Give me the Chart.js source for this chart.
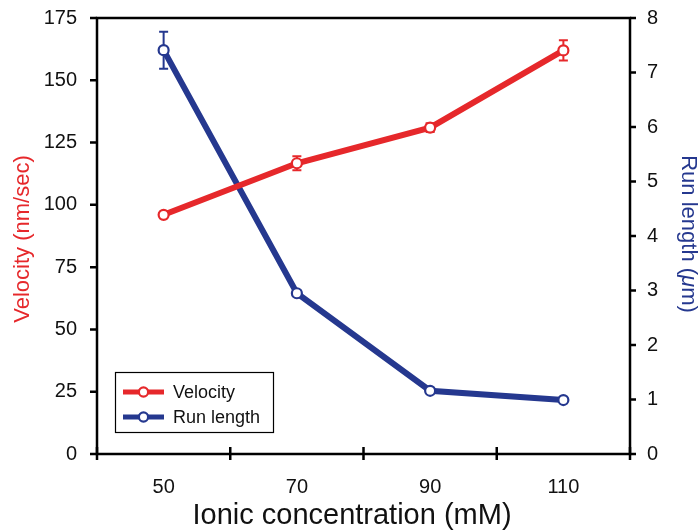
<!DOCTYPE html>
<html>
<head>
<meta charset="utf-8">
<script src="https://cdn.jsdelivr.net/npm/chart.js@4/dist/chart.umd.min.js"></script>
<style>
  html, body { margin: 0; padding: 0; background: #fff; }
  #wrap { width: 700px; height: 531px; position: relative; }
</style>
</head>
<body>
<div id="wrap"><canvas id="chart" width="700" height="531"></canvas></div>
<script>
// Ionic concentration (mM)
const concentration = [50, 70, 90, 110];
// Velocity (nm/sec) with standard error
const velocity = [96, 116.7, 131, 162];
const velocityErr = [1, 2.8, 1.8, 4.1];
// Run length (µm) with standard error
const runLength = [7.41, 2.95, 1.16, 0.99];
const runLengthErr = [0.34, 0.05, 0.04, 0.03];

const xLabelTicks = [50, 70, 90, 110];
const xMarkTicks = [40, 60, 80, 100, 120];
const velocityTicks = [0, 25, 50, 75, 100, 125, 150, 175];
const runTicks = [0, 1, 2, 3, 4, 5, 6, 7, 8];

const RED = '#e6282b';
const BLUE = '#25388f';
const FONT = '"Liberation Sans", Arial, Helvetica, sans-serif';

const toPoints = (ys) => concentration.map((x, i) => ({ x, y: ys[i] }));

// Vertical error bars with caps, drawn under the lines and markers
const errorBars = {
  id: 'errorBars',
  beforeDatasetsDraw(chart) {
    const ctx = chart.ctx;
    const xs = chart.scales.x;
    chart.data.datasets.forEach((ds) => {
      const ys = chart.scales[ds.yAxisID];
      ctx.save();
      ctx.strokeStyle = ds.borderColor;
      ctx.lineWidth = 2;
      ds.data.forEach((p, i) => {
        const e = ds.errors[i];
        const px = xs.getPixelForValue(p.x);
        const top = ys.getPixelForValue(p.y + e);
        const bot = ys.getPixelForValue(p.y - e);
        ctx.beginPath();
        ctx.moveTo(px, top); ctx.lineTo(px, bot);
        ctx.moveTo(px - 4.5, top); ctx.lineTo(px + 4.5, top);
        ctx.moveTo(px - 4.5, bot); ctx.lineTo(px + 4.5, bot);
        ctx.stroke();
      });
      ctx.restore();
    });
  }
};

// Axis frame, tick marks, axis titles and the boxed legend
const frame = {
  id: 'frame',
  afterDraw(chart) {
    const ctx = chart.ctx;
    const { left, right, top, bottom } = chart.chartArea;
    const xs = chart.scales.x, yl = chart.scales.y, yr = chart.scales.y1;
    ctx.save();
    ctx.strokeStyle = '#000';
    ctx.lineWidth = 2.5;
    ctx.lineCap = 'square';
    ctx.beginPath();
    ctx.moveTo(left, top); ctx.lineTo(right, top);
    ctx.moveTo(left, top); ctx.lineTo(left, bottom);
    ctx.moveTo(left, bottom); ctx.lineTo(right, bottom);
    ctx.moveTo(right, top); ctx.lineTo(right, bottom);
    ctx.stroke();
    ctx.lineCap = 'butt';
    ctx.lineWidth = 2.5;
    ctx.beginPath();
    xMarkTicks.forEach(v => {
      const px = xs.getPixelForValue(v);
      ctx.moveTo(px, bottom - 7); ctx.lineTo(px, bottom + 6);
    });
    velocityTicks.forEach(v => {
      const py = yl.getPixelForValue(v);
      ctx.moveTo(left - 7, py); ctx.lineTo(left, py);
    });
    runTicks.forEach(v => {
      const py = yr.getPixelForValue(v);
      ctx.moveTo(right, py); ctx.lineTo(right + 6, py);
    });
    ctx.stroke();

    // axis titles
    ctx.textAlign = 'center';
    ctx.textBaseline = 'middle';
    ctx.fillStyle = '#111';
    ctx.font = '29px ' + FONT;
    ctx.fillText('Ionic concentration (mM)', 352, 516);

    ctx.save();
    ctx.translate(23, 239);
    ctx.rotate(-Math.PI / 2);
    ctx.fillStyle = RED;
    ctx.font = '22px ' + FONT;
    ctx.fillText('Velocity (nm/sec)', 0, 0);
    ctx.restore();

    ctx.save();
    ctx.translate(688, 234);
    ctx.rotate(Math.PI / 2);
    ctx.fillStyle = BLUE;
    ctx.font = '22px ' + FONT;
    const a = 'Run length (', b = 'μ', c = 'm)';
    ctx.textAlign = 'left';
    const wa = ctx.measureText(a).width;
    ctx.font = 'italic 22px ' + FONT;
    const wb = ctx.measureText(b).width;
    ctx.font = '22px ' + FONT;
    const wc = ctx.measureText(c).width;
    let sx = -(wa + wb + wc) / 2;
    ctx.fillText(a, sx, 0); sx += wa;
    ctx.font = 'italic 22px ' + FONT;
    ctx.fillText(b, sx, 0); sx += wb;
    ctx.font = '22px ' + FONT;
    ctx.fillText(c, sx, 0);
    ctx.restore();

    // legend
    ctx.lineWidth = 1.2;
    ctx.strokeStyle = '#000';
    ctx.strokeRect(115.5, 372.5, 158, 60);
    const rows = [
      { label: 'Velocity', color: RED, y: 392 },
      { label: 'Run length', color: BLUE, y: 417 }
    ];
    rows.forEach(r => {
      ctx.strokeStyle = r.color;
      ctx.lineWidth = 5;
      ctx.beginPath();
      ctx.moveTo(123, r.y); ctx.lineTo(164, r.y);
      ctx.stroke();
      ctx.beginPath();
      ctx.arc(143.5, r.y, 4.6, 0, Math.PI * 2);
      ctx.fillStyle = '#fff';
      ctx.fill();
      ctx.lineWidth = 2.2;
      ctx.stroke();
      ctx.fillStyle = '#111';
      ctx.font = '18px ' + FONT;
      ctx.textAlign = 'left';
      ctx.fillText(r.label, 173, r.y + 1);
    });
    ctx.restore();
  }
};

const tickFont = { family: FONT, size: 20 };

// Let the outer tick labels overhang the plot edges instead of shrinking it
const noLabelOverhang = (s) => {
  s.paddingTop = 0; s.paddingBottom = 0;
  s.paddingLeft = 0; s.paddingRight = 0;
};

new Chart(document.getElementById('chart'), {
  type: 'line',
  data: {
    datasets: [
      {
        label: 'Velocity',
        data: toPoints(velocity),
        errors: velocityErr,
        yAxisID: 'y',
        borderColor: RED,
        backgroundColor: '#fff',
        borderWidth: 6,
        pointRadius: 5,
        pointBorderWidth: 2.2,
        pointBackgroundColor: '#fff',
        pointBorderColor: RED,
        tension: 0
      },
      {
        label: 'Run length',
        data: toPoints(runLength),
        errors: runLengthErr,
        yAxisID: 'y1',
        borderColor: BLUE,
        backgroundColor: '#fff',
        borderWidth: 6,
        pointRadius: 5,
        pointBorderWidth: 2.2,
        pointBackgroundColor: '#fff',
        pointBorderColor: BLUE,
        tension: 0
      }
    ]
  },
  options: {
    responsive: false,
    animation: false,
    layout: { padding: { top: 18, left: 0, right: 0, bottom: 0 } },
    plugins: { legend: { display: false }, tooltip: { enabled: false } },
    scales: {
      x: {
        type: 'linear',
        position: 'bottom',
        min: 40, max: 120,
        afterBuildTicks: (s) => { s.ticks = xLabelTicks.map(v => ({ value: v })); },
        afterFit: (s) => { s.height = 77; noLabelOverhang(s); },
        grid: { display: false },
        border: { display: false },
        ticks: { font: tickFont, color: '#111', padding: 13, maxRotation: 0, autoSkip: false }
      },
      y: {
        type: 'linear',
        position: 'left',
        min: 0, max: 175,
        afterBuildTicks: (s) => { s.ticks = velocityTicks.map(v => ({ value: v })); },
        afterFit: (s) => { s.width = 97; noLabelOverhang(s); },
        grid: { display: false },
        border: { display: false },
        ticks: { font: tickFont, color: '#111', padding: 12 }
      },
      y1: {
        type: 'linear',
        position: 'right',
        min: 0, max: 8,
        afterBuildTicks: (s) => { s.ticks = runTicks.map(v => ({ value: v })); },
        afterFit: (s) => { s.width = 70; noLabelOverhang(s); },
        grid: { display: false },
        border: { display: false },
        ticks: { font: tickFont, color: '#111', padding: 9 }
      }
    }
  },
  plugins: [errorBars, frame]
});
</script>
</body>
</html>
